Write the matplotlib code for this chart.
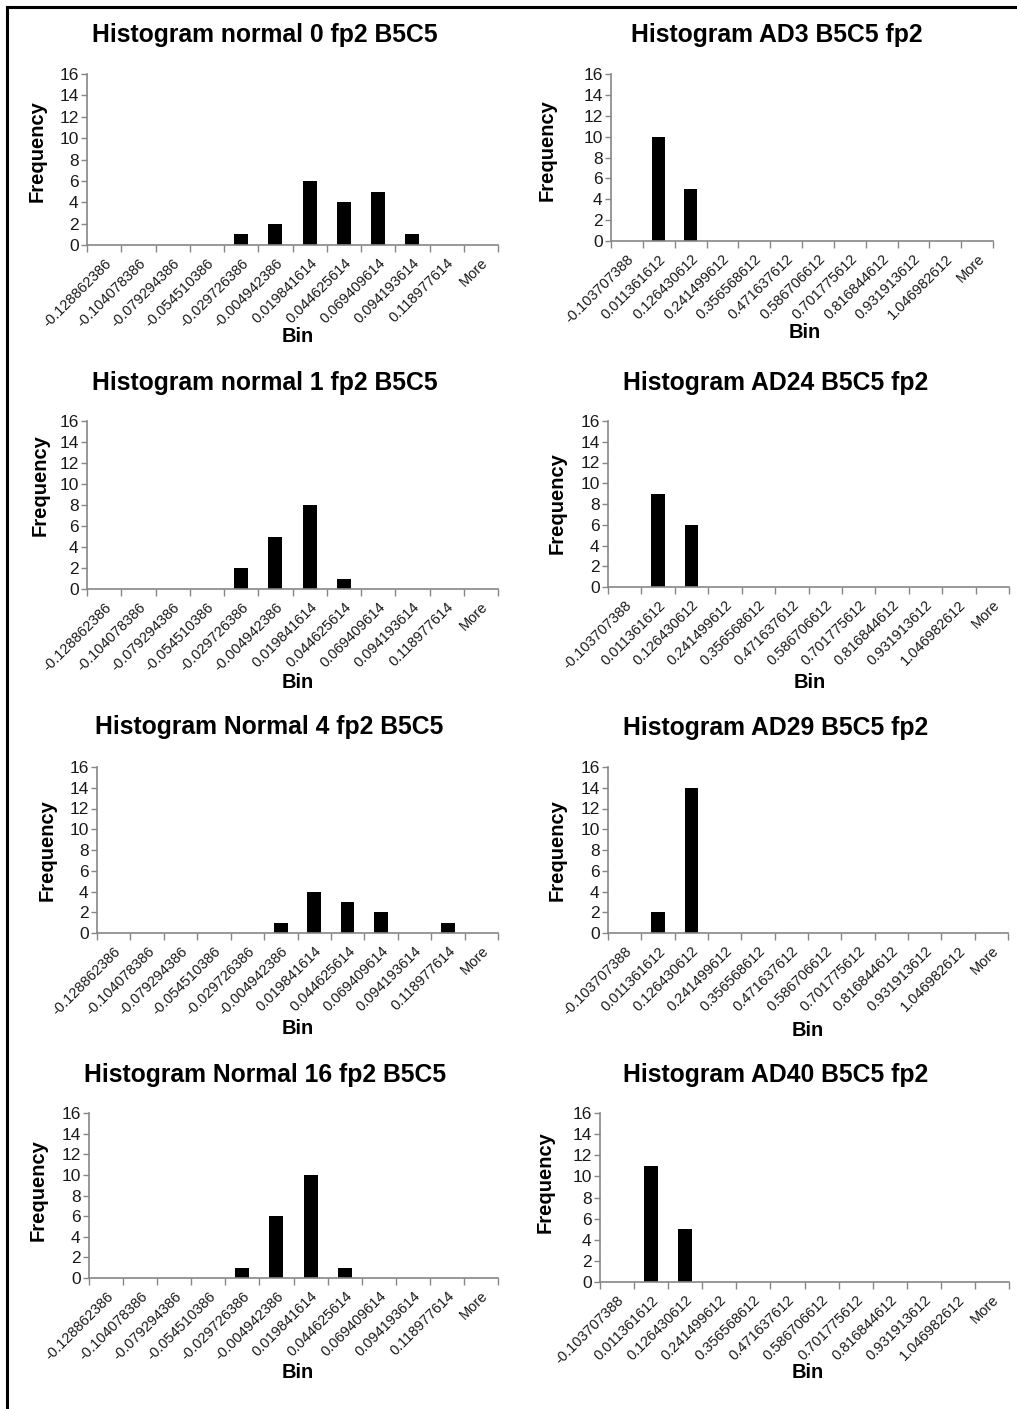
import matplotlib
matplotlib.use("Agg")
import matplotlib.pyplot as plt
from matplotlib.lines import Line2D

plt.rcParams['font.family'] = ['Liberation Sans', 'DejaVu Sans']

# bin labels (Excel histogram output)
normal_bins = ["-0.128862386", "-0.104078386", "-0.079294386", "-0.054510386",
               "-0.029726386", "-0.004942386", "0.019841614", "0.044625614",
               "0.069409614", "0.094193614", "0.118977614", "More"]
ad_bins = ["-0.103707388", "0.011361612", "0.126430612", "0.241499612",
           "0.356568612", "0.471637612", "0.586706612", "0.701775612",
           "0.816844612", "0.931913612", "1.046982612", "More"]

# frequencies
freq_normal0 = [0, 0, 0, 0, 1, 2, 6, 4, 5, 1, 0, 0]
freq_normal1 = [0, 0, 0, 0, 2, 5, 8, 1, 0, 0, 0, 0]
freq_normal4 = [0, 0, 0, 0, 0, 1, 4, 3, 2, 0, 1, 0]
freq_normal16 = [0, 0, 0, 0, 1, 6, 10, 1, 0, 0, 0, 0]
freq_ad3 = [0, 10, 5, 0, 0, 0, 0, 0, 0, 0, 0, 0]
freq_ad24 = [0, 9, 6, 0, 0, 0, 0, 0, 0, 0, 0, 0]
freq_ad29 = [0, 2, 14, 0, 0, 0, 0, 0, 0, 0, 0, 0]
freq_ad40 = [0, 11, 5, 0, 0, 0, 0, 0, 0, 0, 0, 0]

titles = ["Histogram normal 0 fp2 B5C5", "Histogram AD3 B5C5 fp2",
          "Histogram normal 1 fp2 B5C5", "Histogram AD24 B5C5 fp2",
          "Histogram Normal 4 fp2 B5C5", "Histogram AD29 B5C5 fp2",
          "Histogram Normal 16 fp2 B5C5", "Histogram AD40 B5C5 fp2"]

W, H = 1017, 1409
fig = plt.figure(figsize=(W / 100, H / 100), dpi=100)


def fx(x):
    return x / W


def fy(y):
    return 1 - y / H


# pixel layout: (x_left, x_right, y_top, y_zero), title xy, ylabel xy, xlabel xy
layout = [
    ((87, 498, 74, 245), (265, 35), (37, 151), (298, 336)),
    ((611, 993, 74, 241), (777, 35), (547, 150), (805, 333)),
    ((87, 498, 421, 589), (265, 383), (40, 485), (298, 683)),
    ((608, 1009, 421, 587), (776, 383), (557, 503), (810, 682)),
    ((97, 498, 767, 933), (269, 727), (47, 850), (298, 1028)),
    ((608, 1008, 767, 933), (776, 728), (557, 850), (808, 1030)),
    ((89, 498, 1113, 1278), (265, 1075), (38, 1190), (298, 1373)),
    ((600, 1009, 1113, 1282), (776, 1075), (545, 1182), (808, 1373)),
]

data = [
    (normal_bins, freq_normal0), (ad_bins, freq_ad3),
    (normal_bins, freq_normal1), (ad_bins, freq_ad24),
    (normal_bins, freq_normal4), (ad_bins, freq_ad29),
    (normal_bins, freq_normal16), (ad_bins, freq_ad40),
]

axis_grey = "#868686"

for (bins, freq), title, (rect, txy, ylxy, xlxy) in zip(data, titles, layout):
    x0, x1, yt, yb = rect
    ax = fig.add_axes([fx(x0), fy(yb), fx(x1) - fx(x0), (yb - yt) / H])
    xs = list(range(len(bins)))
    ax.bar(xs, freq, width=0.41, color="black")
    ax.set_xlim(-0.5, len(bins) - 0.5)
    ax.set_ylim(0, 16)
    ax.set_yticks(range(0, 17, 2))
    ax.tick_params(axis="y", labelsize=12.5, length=4, width=1,
                   color=axis_grey, pad=2, labelcolor="#1a1a1a")
    ax.set_xticks(xs)
    ax.set_xticklabels(bins, rotation=45, ha="right", va="top",
                       rotation_mode="anchor", fontsize=10.5, color="#1a1a1a")
    ax.tick_params(axis="x", which="major", length=0, pad=8)
    ax.set_xticks([x - 0.5 for x in range(len(bins) + 1)], minor=True)
    ax.tick_params(axis="x", which="minor", length=5, width=1, color=axis_grey)
    for side in ["top", "right"]:
        ax.spines[side].set_visible(False)
    for side in ["left", "bottom"]:
        ax.spines[side].set_color(axis_grey)
        ax.spines[side].set_linewidth(1.2)

    fig.text(fx(txy[0]), fy(txy[1]), title, ha="center", va="center",
             fontsize=17.8, fontweight="bold")
    fig.text(fx(ylxy[0]), fy(ylxy[1]), "Frequency", rotation=90,
             ha="center", va="center", fontsize=14.5, fontweight="bold")
    fig.text(fx(xlxy[0]), fy(xlxy[1]), "Bin", ha="center", va="center",
             fontsize=14.5, fontweight="bold")

# outer frame (top and left edges only)
fig.add_artist(Line2D([fx(7), 1], [fy(7), fy(7)], color="black", lw=2.2))
fig.add_artist(Line2D([fx(7), fx(7)], [fy(7), 0], color="black", lw=2.2))

fig.savefig("out.png", dpi=100)
